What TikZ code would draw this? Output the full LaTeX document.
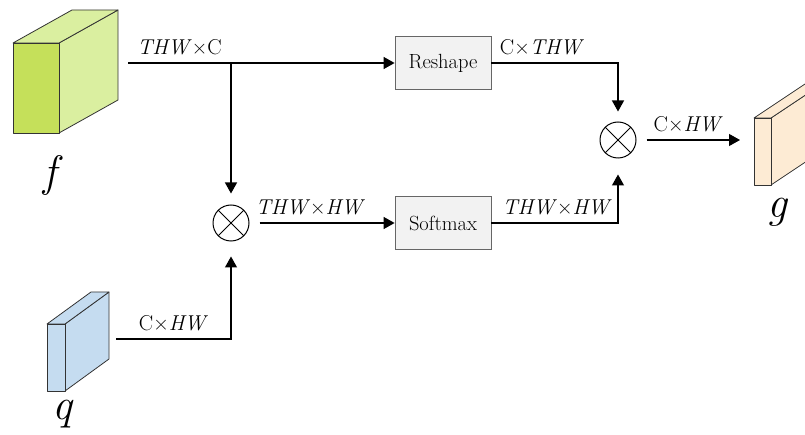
\documentclass[tikz,border=0pt]{standalone}
\usepackage{fontspec}
\usepackage{tikz}
\usetikzlibrary{calc,positioning,arrows.meta}
\definecolor{fgreen}{RGB}{197,224,90}
\definecolor{fgreenl}{RGB}{218,239,160}
\definecolor{qblue}{RGB}{197,220,240}
\definecolor{gpeach}{RGB}{253,235,212}
\tikzset{
  opbox/.style={rectangle,draw=black!60,fill=black!5,line width=0.8pt,minimum width=96pt,minimum height=53pt,inner sep=0pt,font=\fontsize{20.5}{24}\selectfont},
  prod/.style={circle,draw=black,line width=1pt,minimum size=36pt,inner sep=0pt,
    path picture={\draw[line width=1pt] (path picture bounding box.north west)--(path picture bounding box.south east)
      (path picture bounding box.north east)--(path picture bounding box.south west);}},
  line/.style={line width=1.2pt,black},
  flow/.style={line,-{Triangle[length=11pt,width=12pt]}},
  dim/.style={font=\fontsize{21.5}{25}\selectfont,inner sep=4pt},
  feat/.style={font=\fontsize{44}{50}\selectfont\itshape,inner sep=0pt},
  blk/.style={draw=black!80,line width=0.8pt,line join=round},
}
% x,y,w,h,dx,dy,front,side
\newcommand\featblock[8]{%
  \filldraw[blk,fill=#8] (#1+#3,#2)--++(#5,-#6)--++(0,#4)--++(-#5,#6)--cycle;
  \filldraw[blk,fill=#8] (#1,#2)--++(#5,-#6)--++(#3,0)--++(-#5,#6)--cycle;
  \filldraw[blk,fill=#7] (#1,#2) rectangle ++(#3,#4);}

\begin{document}
\begin{tikzpicture}[x=1pt,y=-1pt]
  \useasboundingbox (0,0) rectangle (805,435);
  % feature blocks
  \featblock{13}{43}{46}{90}{59}{33}{fgreen}{fgreenl}
  \featblock{47}{324}{18}{67}{44}{32}{qblue}{qblue}
  \featblock{754}{118}{17}{67}{51}{34}{gpeach}{gpeach}
  \node[feat] (flab) at (50,176) {f};
  \node[feat] (qlab) at (62,414) {q};
  \node[feat] (glab) at (777,212) {g};

  % operations
  \node[opbox] (reshape) at (443,63) {Reshape};
  \node[opbox] (softmax) at (443,223) {Softmax};
  \node[prod] (m1) at (231,223) {};
  \node[prod] (m2) at (618,140) {};

  \coordinate (fout) at (128,63);
  \coordinate (j1) at (m1 |- fout);
  \coordinate (qout) at (116,339);
  \coordinate (gin) at (740,140);

  \draw[line] (fout) -- node[dim,above=3pt]{\textit{THW}×C} (j1);
  \draw[flow] (j1) -- (reshape.west);
  \draw[flow,shorten >=11pt] (j1) -- (m1.north);
  \draw[flow,shorten >=15pt] (qout) -| node[dim,above=3pt,pos=0.25]{C×\textit{HW}} (m1.south);
  \draw[flow,shorten <=10pt] (m1.east) -- node[dim,above=3pt,pos=0.42]{\textit{THW}×\textit{HW}} (softmax.west);
  \draw[flow,shorten >=10pt] (reshape.east) -| node[dim,above=3pt,pos=0.2]{C×\textit{THW}} (m2.north);
  \draw[flow,shorten >=16pt] (softmax.east) -| node[dim,above=3pt,pos=0.26]{\textit{THW}×\textit{HW}} (m2.south);
  \draw[flow,shorten <=10pt] (m2.east) -- node[dim,above=3pt]{C×\textit{HW}} (gin);
\end{tikzpicture}
\end{document}
